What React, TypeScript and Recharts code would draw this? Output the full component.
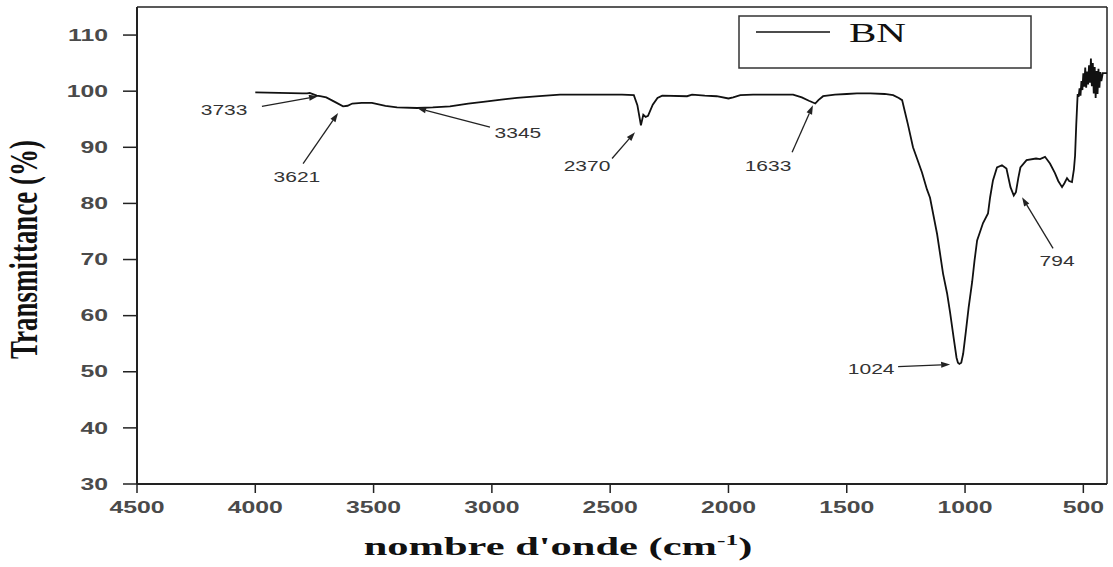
import React from "react";
import { LineChart, Line, XAxis, YAxis, ReferenceLine, ReferenceDot, Legend } from "recharts";

// FTIR spectrum of BN
const wavenumber = [
  4000, 3900, 3800, 3781, 3770, 3740, 3726, 3700, 3660, 3629, 3610, 3590, 3550, 3507,
  3450, 3401, 3316, 3250, 3177, 3100, 3037, 2960, 2894, 2800, 2712, 2600, 2543, 2450,
  2400, 2385, 2370, 2360, 2350, 2340, 2320, 2300, 2280, 2175, 2154, 2100, 2050, 2000,
  1980, 1950, 1896, 1800, 1727, 1690, 1660, 1633, 1620, 1600, 1550, 1500, 1457, 1400,
  1340, 1304, 1280, 1266, 1254, 1241, 1220, 1203, 1182, 1161, 1148, 1118, 1093, 1076,
  1063, 1048, 1036, 1030, 1024, 1016, 1008, 997, 985, 970, 960, 949, 924, 903, 894,
  882, 865, 844, 825, 808, 794, 785, 775, 766, 740, 700, 683, 662, 641, 620, 606, 590,
  580, 569, 560, 548, 540, 535, 530, 524, 520, 516, 512, 508, 504, 500, 496, 492, 488,
  484, 480, 476, 472, 468, 464, 460, 456, 452, 448, 444, 440, 436, 432, 428, 424, 418,
  400,
];
const transmittance = [
  99.8, 99.7, 99.6, 99.6, 99.7, 99.2, 99.1, 98.9, 98.0, 97.3, 97.4, 97.8, 97.9, 97.9,
  97.4, 97.1, 97.0, 97.1, 97.3, 97.8, 98.1, 98.5, 98.8, 99.1, 99.4, 99.4, 99.4, 99.4,
  99.3, 97.5, 93.9, 95.8, 95.4, 95.6, 97.6, 98.8, 99.2, 99.1, 99.4, 99.2, 99.1, 98.7,
  98.9, 99.3, 99.4, 99.4, 99.4, 98.9, 98.3, 97.8, 98.4, 99.1, 99.4, 99.5, 99.6, 99.6,
  99.5, 99.3, 98.8, 98.4, 96.3, 94.0, 90.0, 88.0, 85.5, 82.5, 81.0, 74.5, 67.5, 64.0,
  60.5, 56.0, 52.5, 51.6, 51.4, 51.6, 53.2, 57.0, 61.4, 66.0, 69.8, 73.4, 76.5, 78.2, 81.1,
  84.1, 86.4, 86.8, 86.2, 82.9, 81.4, 82.0, 84.5, 86.4, 87.7, 88.0, 87.9, 88.3, 87.1, 85.4, 84.0, 82.9,
  83.6, 84.5, 84.0, 83.8, 86.0, 88.5, 94.0, 99.5, 99.0, 100.5, 99.2, 101.8, 100.2, 103.2, 100.8, 104.2, 100.6,
  103.5, 101.2, 104.6, 101.5, 105.8, 100.9, 105.0, 99.6, 104.3, 98.8, 103.6, 99.5, 104.0, 100.6, 103.4, 101.8, 103.2,
  103.2,
];

const xTicks = [4500, 4000, 3500, 3000, 2500, 2000, 1500, 1000, 500];
const yTicks = [30, 40, 50, 60, 70, 80, 90, 100, 110];

// peak annotations: text position, arrow tail, arrow tip (data units)
const peakLabels = ["3733", "3621", "3345", "2370", "1633", "1024", "794"];
const labelX = [4132, 3824, 2890, 2598, 1833, 1397, 611];
const labelY = [96.6, 84.8, 92.5, 86.6, 86.6, 50.5, 69.8];
const arrowFromX = [3972, 3798, 3008, 2492, 1731, 1283, 628];
const arrowFromY = [97.3, 87.1, 93.6, 88.0, 89.1, 50.9, 72.0];
const arrowToX = [3735, 3650, 3316, 2395, 1643, 1063, 759];
const arrowToY = [99.1, 96.1, 97.0, 92.7, 97.5, 51.3, 81.1];

const data = wavenumber.map((w, i) => ({ w, t: transmittance[i] }));

const SANS = "'Liberation Sans', Arial, sans-serif";
const SERIF = "'Liberation Serif', 'Times New Roman', serif";
const STRETCH = 1.55;

function XTick(props: any) {
  const { x, y, payload } = props;
  return (
    <g transform={`translate(${x},${y}) scale(${STRETCH},1)`}>
      <text textAnchor="middle" dy="0.71em" fontFamily={SANS} fontSize={16} fontWeight="bold" fill="#4a4a4a">
        {payload.value}
      </text>
    </g>
  );
}

function YTick(props: any) {
  const { x, y, payload } = props;
  return (
    <g transform={`translate(${x},${y}) scale(${STRETCH},1)`}>
      <text textAnchor="end" dy="0.355em" fontFamily={SANS} fontSize={16} fontWeight="bold" fill="#4a4a4a">
        {payload.value}
      </text>
    </g>
  );
}

function Arrow(p: any) {
  const { x1, y1, x2, y2 } = p;
  const ang = Math.atan2(y2 - y1, x2 - x1);
  const len = 9;
  const hw = 3;
  const bx = x2 - len * Math.cos(ang);
  const by = y2 - len * Math.sin(ang);
  const px = -Math.sin(ang) * hw;
  const py = Math.cos(ang) * hw;
  return (
    <g>
      <line x1={x1} y1={y1} x2={bx} y2={by} stroke="#222" strokeWidth={1.3} />
      <polygon points={`${x2},${y2} ${bx + px},${by + py} ${bx - px},${by - py}`} fill="#222" />
    </g>
  );
}

function PeakText({ cx, cy, text }: any) {
  return (
    <g transform={`translate(${cx},${cy}) scale(1.5,1)`}>
      <text textAnchor="middle" dy="0.36em" fontFamily={SANS} fontSize={14} fill="#333">
        {text}
      </text>
    </g>
  );
}

function LegendBox() {
  return (
    <svg width={295} height={55} style={{ display: "block" }}>
      <rect x={1} y={1} width={292} height={52} fill="white" stroke="#333" strokeWidth={1.5} />
      <line x1={18} y1={17} x2={92} y2={17} stroke="#111" strokeWidth={1.5} />
      <g transform={`translate(111,27) scale(1.52,1)`}>
        <text fontFamily={SERIF} fontSize={27} fill="#111">BN</text>
      </g>
    </svg>
  );
}

function YTitle(props: any) {
  const vb = props.viewBox || { x: 0, y: 7, height: 477 };
  const cy = vb.y + vb.height / 2 + 4;
  return (
    <g transform={`translate(${vb.x + 37},${cy}) scale(1.5,1) rotate(-90)`}>
      <text textAnchor="middle" fontFamily={SERIF} fontWeight="bold" fontSize={27} fill="#111">
        Transmittance (%)
      </text>
    </g>
  );
}

function XTitle(props: any) {
  const vb = props.viewBox || { x: 137, y: 484 };
  return (
    <g transform={`translate(${vb.x + 421},${vb.y + 71}) scale(1.7,1)`}>
      <text textAnchor="middle" fontFamily={SERIF} fontWeight="bold" fontSize={25} fill="#111">
        nombre d'onde (cm
        <tspan dy={-10} fontSize={15}>-1</tspan>
        <tspan dy={10}>)</tspan>
      </text>
    </g>
  );
}

export default function App() {
  return (
    <div style={{ position: "absolute", left: 0, top: 0, width: 1113, height: 567, background: "white" }}>
      <LineChart width={1113} height={567} data={data} margin={{ top: 7, right: 6, left: 0, bottom: 0 }}>
        <XAxis
          dataKey="w"
          type="number"
          domain={[400, 4500]}
          reversed
          allowDataOverflow
          ticks={xTicks}
          height={83}
          tickSize={9}
          tickMargin={9}
          axisLine={{ stroke: "#222", strokeWidth: 2 }}
          tickLine={{ stroke: "#222", strokeWidth: 1.5 }}
          tick={<XTick />}
          label={{ content: XTitle }}
        />
        <YAxis
          type="number"
          domain={[30, 115]}
          allowDataOverflow
          ticks={yTicks}
          width={137}
          tickSize={14}
          tickMargin={15}
          axisLine={{ stroke: "#222", strokeWidth: 2 }}
          tickLine={{ stroke: "#222", strokeWidth: 1.5 }}
          tick={<YTick />}
          label={{ content: YTitle }}
        />
        <ReferenceLine y={115} stroke="#222" strokeWidth={1.5} />
        <ReferenceLine x={400} stroke="#222" strokeWidth={1.5} />
        <Legend
          layout="vertical"
          align="center"
          verticalAlign="middle"
          content={() => <LegendBox />}
          wrapperStyle={{ left: 738, top: 15, width: 295, height: 55 }}
        />
        <Line
          type="linear"
          dataKey="t"
          name="BN"
          stroke="#111"
          strokeWidth={1.8}
          dot={false}
          isAnimationActive={false}
        />
        {peakLabels.map((lab, i) => (
          <ReferenceLine
            key={"a" + lab}
            segment={[
              { x: arrowFromX[i], y: arrowFromY[i] },
              { x: arrowToX[i], y: arrowToY[i] },
            ]}
            shape={(p: any) => <Arrow {...p} />}
          />
        ))}
        {peakLabels.map((lab, i) => (
          <ReferenceDot
            key={"t" + lab}
            x={labelX[i]}
            y={labelY[i]}
            r={1}
            shape={(p: any) => <PeakText cx={p.cx} cy={p.cy} text={lab} />}
          />
        ))}
      </LineChart>
    </div>
  );
}
